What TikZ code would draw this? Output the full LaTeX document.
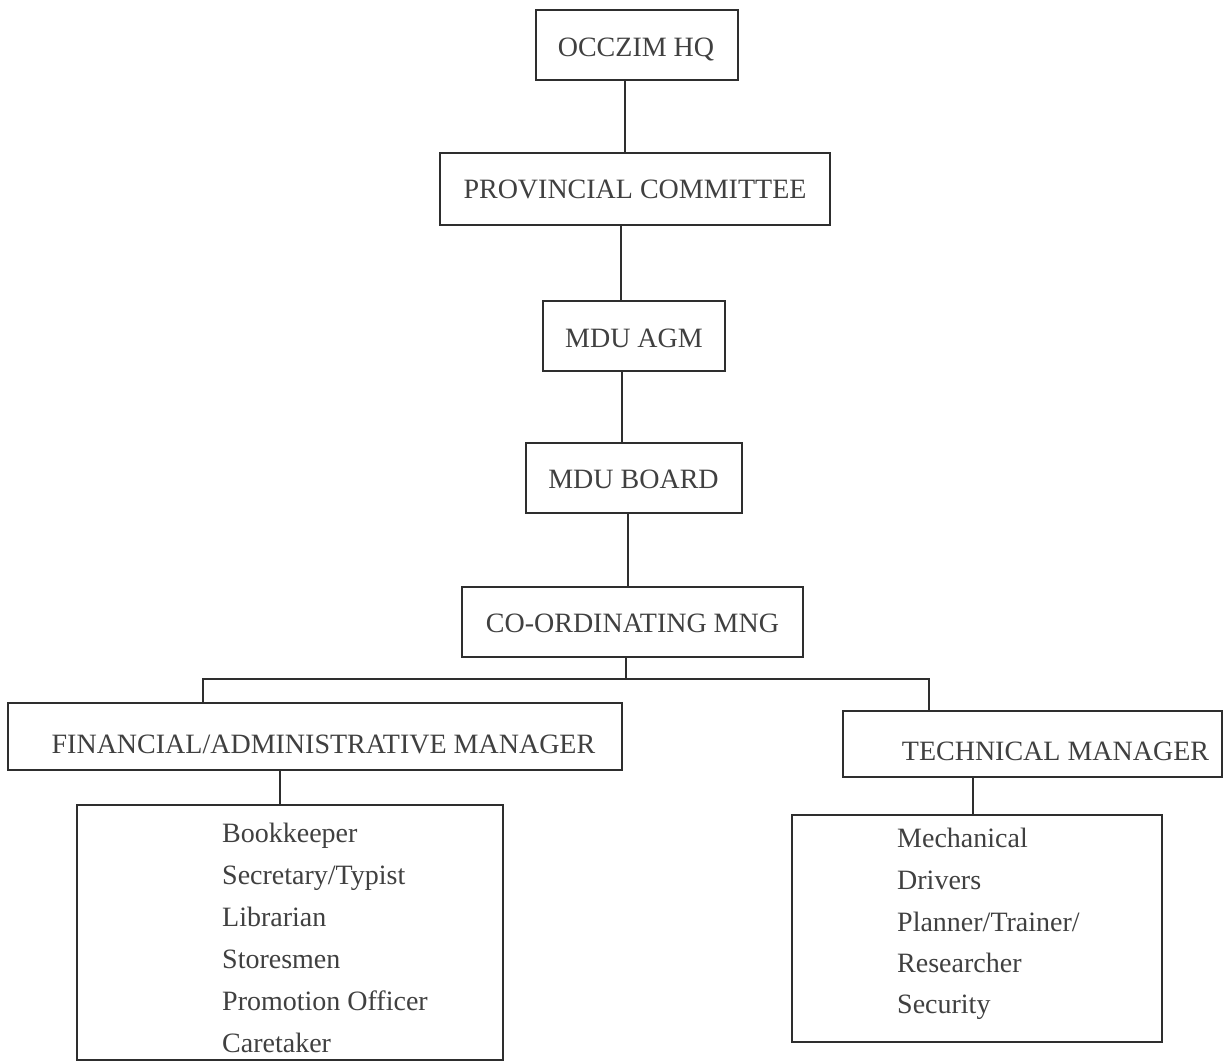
\documentclass[tikz,border=0pt]{standalone}
\usepackage{fontspec}
\setmainfont{Liberation Serif}
\definecolor{inkline}{HTML}{2E2E2E}
\definecolor{inktext}{HTML}{404040}
\begin{document}
\begin{tikzpicture}[x=1pt,y=-1pt,
  box/.style={draw=inkline, line width=2pt, inner sep=0pt, fill=none},
  lbl/.style={anchor=base, inner sep=0pt, text=inktext, font=\fontsize{28}{34}\selectfont},
  item/.style={anchor=base west, inner sep=0pt, text=inktext, font=\fontsize{28}{34}\selectfont},
  conn/.style={draw=inkline, line width=1.8pt}]
\fill[white] (0,0) rectangle (1224,1062);
\useasboundingbox (0,0) rectangle (1224,1062);

% boxes
\node[box, minimum width=202pt, minimum height=70pt] (hq) at (637,45) {};
\node[box, minimum width=390pt, minimum height=72pt] (prov) at (635,189) {};
\node[box, minimum width=182pt, minimum height=70pt] (agm) at (634,336) {};
\node[box, minimum width=216pt, minimum height=70pt] (board) at (634,478) {};
\node[box, minimum width=341pt, minimum height=70pt] (coord) at (632.5,622) {};
\node[box, minimum width=614pt, minimum height=67pt] (fin) at (315,736.5) {};
\node[box, minimum width=379pt, minimum height=66pt] (tech) at (1032.5,744) {};
\node[box, minimum width=426pt, minimum height=255pt] (lstaff) at (290,932.5) {};
\node[box, minimum width=370pt, minimum height=227pt] (rstaff) at (977,928.5) {};

% box labels
\node[lbl] (thq) at (636,57) {OCCZIM HQ};
\node[lbl] (tprov) at (635,198) {PROVINCIAL COMMITTEE};
\node[lbl] (tagm) at (634,347) {MDU AGM};
\node[lbl] (tboard) at (633.5,488) {MDU BOARD};
\node[lbl] (tcoord) at (632.5,632) {CO-ORDINATING MNG};
\node[lbl] (tfin) at (323.5,753) {FINANCIAL/ADMINISTRATIVE MANAGER};
\node[lbl] (ttech) at (1055.5,760) {TECHNICAL MANAGER};

% staff lists
\node[item] (l1) at (222,842) {Bookkeeper};
\node[item] (l2) at (222,884) {Secretary/Typist};
\node[item] (l3) at (222,926) {Librarian};
\node[item] (l4) at (222,968) {Storesmen};
\node[item] (l5) at (222,1010) {Promotion Officer};
\node[item] (l6) at (222,1052) {Caretaker};

\node[item] (r1) at (897,847) {Mechanical};
\node[item] (r2) at (897,889) {Drivers};
\node[item] (r3) at (897,931) {Planner/Trainer/};
\node[item] (r4) at (897,972) {Researcher};
\node[item] (r5) at (897,1013) {Security};

% connectors
\draw[conn] ([xshift=-12pt]hq.south) -- ([xshift=-12pt]hq.south |- prov.north);
\draw[conn] ([xshift=-14pt]prov.south) -- ([xshift=-14pt]prov.south |- agm.north);
\draw[conn] ([xshift=-12pt]agm.south) -- ([xshift=-12pt]agm.south |- board.north);
\draw[conn] ([xshift=-6pt]board.south) -- ([xshift=-6pt]board.south |- coord.north);

\coordinate (busM) at (626,679);
\coordinate (busL) at (203,679);
\coordinate (busR) at (929,679);
\draw[conn] ([xshift=-6.5pt]coord.south) -- (busM);
\draw[conn] (fin.north -| busL) -- (busL) -- (busR) -- (tech.north -| busR);

\draw[conn] ([xshift=-35pt]fin.south) -- ([xshift=-35pt]fin.south |- lstaff.north);
\draw[conn] ([xshift=-59.5pt]tech.south) -- ([xshift=-59.5pt]tech.south |- rstaff.north);
\end{tikzpicture}
\end{document}
